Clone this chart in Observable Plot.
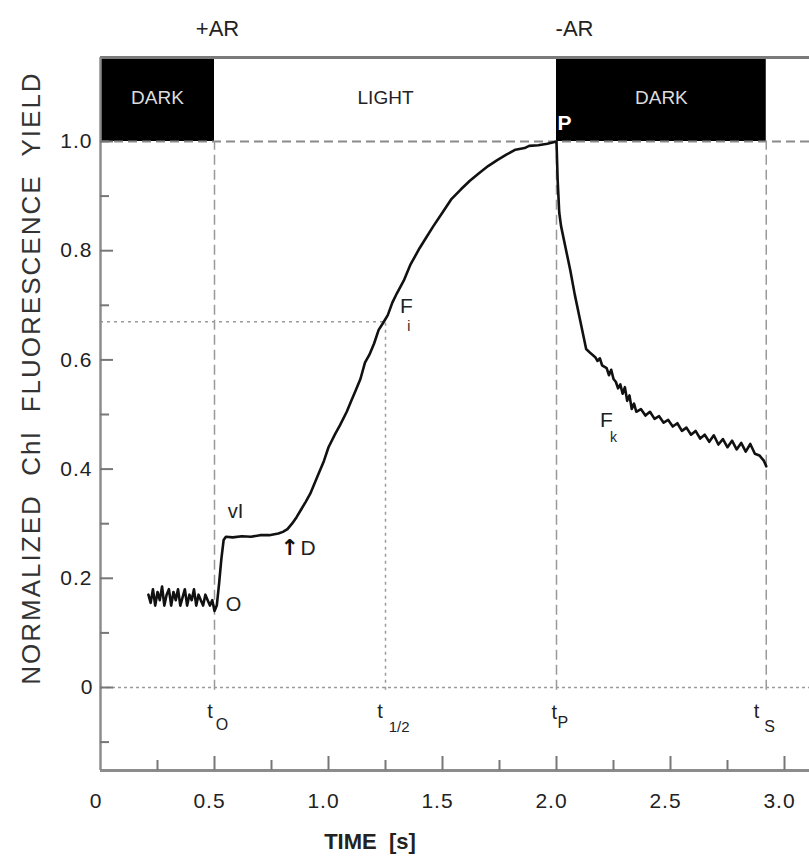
<!DOCTYPE html>
<html><head><meta charset="utf-8">
<script src="https://cdn.jsdelivr.net/npm/d3@7"></script>
<script src="https://cdn.jsdelivr.net/npm/@observablehq/plot@0.6"></script>
<style>body{margin:0;background:#fff} svg{display:block}</style>
</head><body><div id="chart"></div>
<script>
// ---- data ----
const time = [
  0.21,0.22,0.23,0.24,0.25,0.26,0.27,0.28,0.29,0.30,0.31,0.32,0.33,0.34,0.35,0.36,0.37,0.38,0.39,0.40,
  0.41,0.42,0.43,0.44,0.45,0.46,0.47,0.48,0.49,0.50,
  0.51,0.52,0.53,0.54,0.55,0.58,0.62,0.66,0.70,0.74,0.78,0.80,0.82,0.84,0.86,0.88,0.90,0.92,0.95,0.98,
  1.00,1.03,1.05,1.08,1.10,1.12,1.14,1.16,1.18,1.20,1.22,1.24,1.26,1.28,1.30,1.33,1.36,1.40,1.43,1.46,
  1.50,1.54,1.58,1.62,1.66,1.70,1.74,1.78,1.82,1.86,1.88,1.92,1.96,2.00,
  2.005,2.012,2.02,2.04,2.06,2.08,2.10,2.12,2.13,2.15,2.17,2.18,2.19,2.20,2.22,2.23,2.24,2.25,2.26,2.27,
  2.28,2.29,2.30,2.31,2.32,2.33,2.34,2.35,2.37,2.39,2.41,2.43,2.45,2.47,2.49,2.51,2.53,2.55,2.57,2.59,
  2.61,2.63,2.65,2.67,2.69,2.71,2.73,2.75,2.77,2.79,2.81,2.83,2.85,2.87,2.89,2.91,2.92
];
const fluorescence = [
  0.17,0.155,0.18,0.15,0.175,0.16,0.185,0.15,0.17,0.18,0.15,0.175,0.16,0.18,0.15,0.165,0.18,0.15,0.17,0.16,
  0.18,0.15,0.17,0.16,0.15,0.17,0.16,0.15,0.16,0.14,
  0.15,0.19,0.235,0.27,0.276,0.275,0.277,0.276,0.279,0.279,0.282,0.285,0.29,0.30,0.312,0.326,0.34,0.355,0.385,0.415,
  0.44,0.465,0.48,0.505,0.525,0.545,0.565,0.595,0.61,0.63,0.655,0.668,0.682,0.705,0.722,0.745,0.775,0.805,0.825,0.845,
  0.87,0.895,0.912,0.928,0.942,0.955,0.966,0.976,0.985,0.988,0.992,0.993,0.996,1.0,
  0.93,0.87,0.845,0.805,0.765,0.72,0.68,0.64,0.62,0.612,0.605,0.598,0.603,0.59,0.585,0.572,0.582,0.565,0.56,0.548,
  0.555,0.538,0.55,0.525,0.535,0.51,0.52,0.505,0.51,0.498,0.505,0.492,0.497,0.485,0.49,0.478,0.484,0.47,0.476,0.463,
  0.47,0.456,0.463,0.45,0.462,0.445,0.455,0.44,0.452,0.436,0.448,0.432,0.446,0.428,0.425,0.415,0.405
];
const phaseStart = [0, 0.5, 2.0];
const phaseEnd   = [0.5, 2.0, 2.92];
const phaseLabel = ["DARK", "LIGHT", "DARK"];
const phaseDark  = [true, false, true];

const xMajorTicks = [0, 0.5, 1.0, 1.5, 2.0, 2.5, 3.0];
const xMajorLabels = ["0", "0.5", "1.0", "1.5", "2.0", "2.5", "3.0"];
const xMinorTicks = [0.25, 0.75, 1.25, 1.75, 2.25, 2.75];
const yMajorTicks = [0, 0.2, 0.4, 0.6, 0.8, 1.0];
const yMajorLabels = ["0", "0.2", "0.4", "0.6", "0.8", "1.0"];
const yMinorTicks = [-0.1, 0.1, 0.3, 0.5, 0.7, 0.9];

const tO = 0.5, tHalf = 1.25, tP = 2.0, tS = 2.92, Fi = 0.67;

// annotation labels [text, x, y, size]
const curveLabels = [
  ["O", 0.583, 0.152, 20],
  ["vI", 0.592, 0.322, 20],
  ["D", 0.91, 0.255, 21],
  ["F", 1.342, 0.698, 21],
  ["i", 1.352, 0.662, 14],
  ["F", 2.219, 0.49, 21],
  ["k", 2.25, 0.458, 14],
  ["t", 0.48, -0.044, 20],
  ["O", 0.533, -0.068, 16],
  ["t", 1.226, -0.044, 20],
  ["1/2", 1.31, -0.073, 15],
  ["t", 1.99, -0.046, 20],
  ["P", 2.028, -0.064, 16],
  ["t", 2.877, -0.044, 20],
  ["S", 2.935, -0.073, 16]
];
const arrowLabels = [["↑", 0.83, 0.256]];

// ---- scales ----
const xDomain = [0, 709 / 228];
const yMin = -83 / 546, yMax = 1 + 84 / 546;
const tickLenX = 14 / 546, tickLenXMinor = 10 / 546;
const tickLenY = 13 / 228, tickLenYMinor = 9 / 228;

const curve = time.map((t, i) => ({t, f: fluorescence[i]}));
const phases = phaseStart.map((s, i) => ({s, e: phaseEnd[i], label: phaseLabel[i], dark: phaseDark[i]}));
const labels = curveLabels.map(([text, x, y, size]) => ({text, x, y, size}));
const arrows = arrowLabels.map(([text, x, y]) => ({text, x, y}));
const axisGray = "#8c8c8c";
const font = "'Liberation Sans', Arial, sans-serif";

const chart = Plot.plot({
  width: 809, height: 864,
  marginLeft: 100, marginRight: 0, marginTop: 57, marginBottom: 94,
  x: {domain: xDomain, axis: null},
  y: {domain: [yMin, yMax], axis: null},
  style: {fontFamily: font, background: "#fff", color: "#222"},
  marks: [
    // phase bars
    Plot.rect(phases, {x1: "s", x2: "e", y1: 1.0, y2: yMax, fill: d => d.dark ? "#000" : "#fff"}),
    Plot.ruleY([yMax], {stroke: "#7a7a7a", strokeWidth: 3}),
    Plot.text(phases, {x: d => (d.s + d.e) / 2, y: 1.0 + (yMax - 1.0) * 0.52, text: "label",
      fill: d => d.dark ? "#ddd" : "#222", fontSize: 19}),
    Plot.text(["P"], {x: tP, y: 1.033, text: d => d, fill: "#fff", fontWeight: "bold", fontSize: 21, textAnchor: "start", dx: 1}),
    // top markers
    Plot.text(["+AR"], {x: tO, y: yMax, text: d => d, dy: -29, dx: 3, fontSize: 22, fill: "#222"}),
    Plot.text(["-AR"], {x: tP, y: yMax, text: d => d, dy: -29, dx: 18, fontSize: 22, fill: "#222"}),
    // reference lines
    Plot.ruleY([1.0], {stroke: "#8a8a8a", strokeWidth: 2, strokeDasharray: "9,5"}),
    Plot.ruleY([0], {stroke: "#9a9a9a", strokeWidth: 1.5, strokeDasharray: "3,3"}),
    Plot.ruleY([Fi], {x1: 0, x2: tHalf, stroke: "#9a9a9a", strokeWidth: 1.5, strokeDasharray: "3,4"}),
    Plot.ruleX([tO, tP, tS], {y1: -0.005, y2: 1.0, stroke: "#999", strokeWidth: 1.5, strokeDasharray: "10,5"}),
    Plot.ruleX([tHalf], {y1: -0.005, y2: Fi, stroke: "#9a9a9a", strokeWidth: 1.5, strokeDasharray: "3,4"}),
    // curve
    Plot.line(curve, {x: "t", y: "f", stroke: "#111", strokeWidth: 2.6, strokeLinejoin: "round"}),
    // axes lines
    Plot.ruleX([0], {y1: yMin, y2: yMax, stroke: axisGray, strokeWidth: 2.5}),
    Plot.ruleY([yMin], {stroke: axisGray, strokeWidth: 3}),
    // x ticks (inward)
    Plot.ruleX(xMajorTicks.slice(1), {y1: yMin, y2: yMin + tickLenX, stroke: "#777", strokeWidth: 2}),
    Plot.ruleX(xMinorTicks, {y1: yMin, y2: yMin + tickLenXMinor, stroke: "#777", strokeWidth: 2}),
    Plot.text(xMajorTicks, {x: d => d, y: yMin, text: (d, i) => xMajorLabels[i], dy: 31, dx: -5, fontSize: 21, fill: "#222"}),
    // y ticks (inward)
    Plot.ruleY(yMajorTicks, {x1: 0, x2: tickLenY, stroke: "#777", strokeWidth: 2}),
    Plot.ruleY(yMinorTicks, {x1: 0, x2: tickLenYMinor, stroke: "#777", strokeWidth: 2}),
    Plot.text(yMajorTicks, {x: 0, y: d => d, text: (d, i) => yMajorLabels[i], dx: -8, textAnchor: "end", fontSize: 21, fill: "#222"}),
    // curve and time labels
    Plot.text(labels, {x: "x", y: "y", text: "text", fontSize: d => d.size, fill: "#222"}),
    Plot.text(arrows, {x: "x", y: "y", text: "text", fontSize: 22, fontWeight: "bold", fill: "#111", fontFamily: "'DejaVu Sans', sans-serif"}),
    // axis titles
    Plot.text(["NORMALIZED  Chl  FLUORESCENCE  YIELD"], {frameAnchor: "left", textAnchor: "middle", text: d => d, rotate: -90, dx: -69, dy: -36, fontSize: 26, fill: "#333"}),
    Plot.text(["TIME  [s]"], {frameAnchor: "bottom", text: d => d, dx: -85, dy: 78, fontSize: 22, fontWeight: "bold", fill: "#222"})
  ]
});
chart.querySelectorAll("text").forEach(t => {
  if (t.textContent.startsWith("NORMALIZED")) t.setAttribute("letter-spacing", "2");
  if (/^\d/.test(t.textContent) && t.textContent.length === 3 && t.textContent.includes(".")) t.setAttribute("letter-spacing", "1");
});
document.getElementById("chart").appendChild(chart);
</script>
</body></html>
